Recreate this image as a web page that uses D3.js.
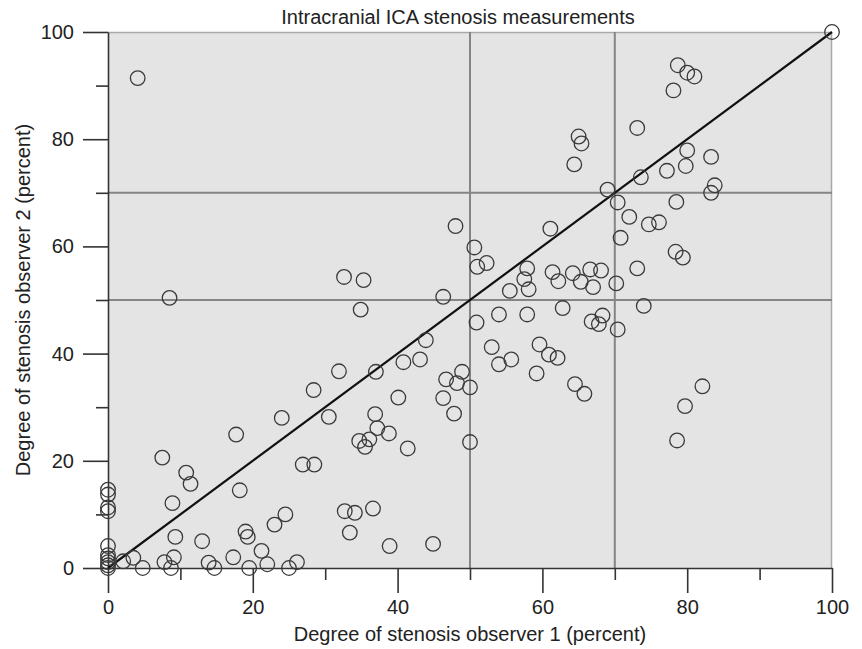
<!DOCTYPE html>
<html>
<head>
<meta charset="utf-8">
<script src="https://cdn.jsdelivr.net/npm/d3@7"></script>
<style>
  body { margin: 0; background: #fff; }
  svg text { font-family: "Liberation Sans", Arial, sans-serif; fill: #222; }
</style>
</head>
<body>
<div id="chart"></div>
<script>
// observer 1 / observer 2 readings (percent stenosis)
observer1 = [100, 78.7, 80.0, 81.0, 78.1, 73.1, 65.0, 65.4, 64.4, 80.0, 83.3, 79.8, 77.2, 73.6, 69.0, 83.8, 83.3, 70.4, 78.5,
    72.0, 74.7, 76.1, 70.8, 78.4, 79.4, 66.6, 68.1, 73.1, 67.0, 70.2, 74.0, 68.3, 66.8, 67.8, 70.4, 82.1, 79.7, 78.6,
    4.1, 8.5, 32.6, 35.3, 31.9, 28.4,
    48.0, 61.1, 50.6, 51.0, 52.3, 57.9, 57.5, 58.1, 55.5, 61.4, 62.2, 64.2, 65.3, 46.3, 34.9, 62.8, 54.0, 57.9, 50.9,
    43.9, 53.0, 59.6, 60.9, 62.1, 55.7, 54.0, 40.8, 43.1, 37.0, 59.2, 48.9, 46.7, 48.2, 50.0, 64.5, 65.8, 40.1, 46.3,
    47.8, 50.0, 30.5, 36.9, 37.2, 38.8, 34.7, 36.1, 35.5, 41.4, 32.7, 34.1, 36.6, 33.4, 38.9, 44.9,
    24.0, 17.7, 7.5, 10.8, 11.4, 26.9, 28.5, 18.2, 8.9, 0, 0, 0, 0, 24.5, 23.0, 19.0, 19.3, 9.3, 13.0, 0, 21.2,
    0, 0, 0, 0, 0, 2.1, 3.5, 4.8, 7.8, 9.1, 8.7, 13.9, 14.7, 17.3, 19.5, 22.0, 25.0, 26.1]
observer2 = [100, 93.8, 92.4, 91.7, 89.1, 82.1, 80.5, 79.2, 75.3, 77.9, 76.7, 75.0, 74.1, 72.9, 70.6, 71.4, 70.0, 68.2, 68.3,
    65.5, 64.1, 64.5, 61.6, 59.0, 57.9, 55.7, 55.5, 55.9, 52.4, 53.1, 48.9, 47.1, 46.0, 45.5, 44.5, 33.9, 30.2, 23.8,
    91.4, 50.4, 54.3, 53.7, 36.7, 33.2,
    63.8, 63.3, 59.8, 56.2, 56.9, 55.9, 53.9, 52.0, 51.7, 55.2, 53.5, 55.0, 53.4, 50.6, 48.2, 48.5, 47.3, 47.3, 45.8,
    42.5, 41.2, 41.7, 39.8, 39.2, 38.9, 38.0, 38.4, 38.9, 36.6, 36.3, 36.6, 35.2, 34.5, 33.7, 34.3, 32.5, 31.8, 31.7,
    28.8, 23.5, 28.2, 28.7, 26.1, 25.1, 23.7, 24.0, 22.6, 22.3, 10.6, 10.3, 11.1, 6.6, 4.1, 4.5,
    28.0, 24.9, 20.6, 17.8, 15.7, 19.3, 19.3, 14.5, 12.1, 14.6, 13.7, 11.3, 10.6, 10.0, 8.1, 6.8, 5.8, 5.8, 5.0, 4.1, 3.2,
    2.4, 1.8, 1.1, 0.5, 0, 1.25, 1.9, 0, 1.1, 2.0, 0, 1.0, 0, 2.0, 0, 0.7, 0, 1.1]

majorTicks = [0, 20, 40, 60, 80, 100]
minorTicks = [10, 30, 50, 70, 90]
gridValues = [50, 70]
identityLine = [0, 100]

chartTitle = "Intracranial ICA stenosis measurements"
xLabel = "Degree of stenosis observer 1 (percent)"
yLabel = "Degree of stenosis observer 2 (percent)"

let points = observer1.map((d, i) => ({ x: d, y: observer2[i] }));

const W = 862, H = 649;
const margin = { top: 32, right: 30, bottom: 81, left: 108 };
const width = W - margin.left - margin.right;
const height = H - margin.top - margin.bottom;

const svg = d3.select("#chart")
    .append("svg")
    .attr("width", W)
    .attr("height", H);

const g = svg.append("g")
    .attr("transform", "translate(" + margin.left + "," + margin.top + ")");

const xScale = d3.scaleLinear().domain([0, 100]).range([0, width]);
const yScale = d3.scaleLinear().domain([0, 100]).range([height, 0]);

// plot background + frame
g.append("rect")
    .attr("x", 0).attr("y", 0)
    .attr("width", width).attr("height", height)
    .attr("fill", "#e4e4e4");
g.append("path")
    .attr("d", `M0,0.5H${width - 0.5}V${height}`)
    .attr("fill", "none")
    .attr("stroke", "#a8a8a8")
    .attr("stroke-width", 1.5);

// reference grid lines at 50 and 70
g.selectAll(".vgrid")
    .data(gridValues)
    .enter().append("line")
    .attr("class", "vgrid")
    .attr("x1", d => xScale(d)).attr("x2", d => xScale(d))
    .attr("y1", 0).attr("y2", height)
    .attr("stroke", "#858585")
    .attr("stroke-width", 2);
g.selectAll(".hgrid")
    .data(gridValues)
    .enter().append("line")
    .attr("class", "hgrid")
    .attr("x1", 0).attr("x2", width)
    .attr("y1", d => yScale(d)).attr("y2", d => yScale(d))
    .attr("stroke", "#858585")
    .attr("stroke-width", 2);

// axes: major ticks with labels, minor ticks without
function styleAxis(sel) {
    sel.selectAll("line").attr("stroke", "#333").attr("stroke-width", 1.6);
    sel.selectAll("path").attr("stroke", "#333").attr("stroke-width", 1.6);
    sel.selectAll("text").style("font-size", "20px").attr("fill", "#222");
}

const xMajor = g.append("g")
    .attr("transform", "translate(0," + height + ")")
    .call(d3.axisBottom(xScale).tickValues(majorTicks).tickSize(25).tickSizeOuter(0).tickPadding(7))
    .call(styleAxis);
xMajor.select(".domain").remove();

const xMinor = g.append("g")
    .attr("transform", "translate(0," + height + ")")
    .call(d3.axisBottom(xScale).tickValues(minorTicks).tickSize(12).tickSizeOuter(0).tickFormat(""))
    .call(styleAxis);

const yMajor = g.append("g")
    .call(d3.axisLeft(yScale).tickValues(majorTicks).tickSize(25).tickSizeOuter(0).tickPadding(9))
    .call(styleAxis);
yMajor.select(".domain").remove();

const yMinor = g.append("g")
    .call(d3.axisLeft(yScale).tickValues(minorTicks).tickSize(12).tickSizeOuter(0).tickFormat(""))
    .call(styleAxis);

// identity line
const line = d3.line()
    .x(d => xScale(d))
    .y(d => yScale(d));

g.append("path")
    .datum(identityLine)
    .attr("d", line)
    .attr("fill", "none")
    .attr("stroke", "#111")
    .attr("stroke-width", 2.2);

// observations
g.selectAll(".pt")
    .data(points)
    .enter().append("circle")
    .attr("class", "pt")
    .attr("cx", d => xScale(d.x))
    .attr("cy", d => yScale(d.y))
    .attr("r", 7.3)
    .attr("fill", "none")
    .attr("stroke", "#3a3a3a")
    .attr("stroke-width", 1.3);

// labels
svg.append("text")
    .attr("x", 458)
    .attr("y", 24)
    .style("text-anchor", "middle")
    .style("font-size", "20px")
    .text(chartTitle);

svg.append("text")
    .attr("x", margin.left + width / 2)
    .attr("y", 641)
    .style("text-anchor", "middle")
    .style("font-size", "20px")
    .text(xLabel);

svg.append("text")
    .attr("transform", "rotate(-90)")
    .attr("x", -(margin.top + height / 2))
    .attr("y", 30)
    .style("text-anchor", "middle")
    .style("font-size", "20px")
    .text(yLabel);
</script>
</body>
</html>
